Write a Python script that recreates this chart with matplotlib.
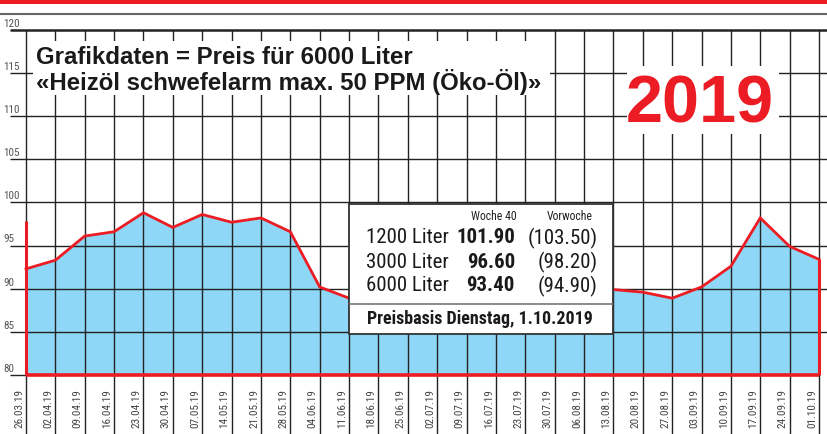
import matplotlib
matplotlib.use("Agg")
import matplotlib.pyplot as plt
from matplotlib import font_manager
from matplotlib.patches import Rectangle

# weekly dates and price for 6000 liter (heating oil, eco)
dates = ["26.03.19", "02.04.19", "09.04.19", "16.04.19", "23.04.19", "30.04.19",
         "07.05.19", "14.05.19", "21.05.19", "28.05.19", "04.06.19", "11.06.19",
         "18.06.19", "25.06.19", "02.07.19", "09.07.19", "16.07.19", "23.07.19",
         "30.07.19", "06.08.19", "13.08.19", "20.08.19", "27.08.19", "03.09.19",
         "10.09.19", "17.09.19", "24.09.19", "01.10.19"]
prices = [92.3, 93.3, 96.1, 96.6, 98.8, 97.1, 98.6, 97.7, 98.2, 96.6, 90.2, 88.9,
          88.5, 90.5, 91.0, 90.8, 91.2, 89.8, 90.4, 88.6, 89.9, 89.6, 88.9, 90.2,
          92.6, 98.2, 94.9, 93.4]
y_ticks = [80, 85, 90, 95, 100, 105, 110, 115, 120]

box_sizes = ["1200 Liter", "3000 Liter", "6000 Liter"]
box_now = ["101.90", "96.60", "93.40"]
box_prev = ["(103.50)", "(98.20)", "(94.90)"]

RED = "#ec1c24"
BLUE = "#8ed7f6"
GRID = "#222222"

# look for a narrow sans font (the original uses a condensed grotesk)
narrow = None
fonts = font_manager.fontManager.ttflist
for want in ["Liberation Sans Narrow", "Roboto Condensed", "Open Sans Condensed",
             "Noto Sans Condensed", "DejaVu Sans Condensed"]:
    if any(f.name == want for f in fonts):
        narrow = want
        break
if narrow is None:
    for f in fonts:
        st = f.stretch
        if (st in ("condensed", "semi-condensed", "extra-condensed")
                or (isinstance(st, int) and st < 500)) and "Serif" not in f.name \
                and "Mono" not in f.name and "CJK" not in f.name:
            narrow = f.name
            break
cond_ok = narrow is not None
if narrow is None:
    narrow = "Liberation Sans"

plt.rcParams["font.family"] = ["Liberation Sans", "DejaVu Sans"]

fig = plt.figure(figsize=(8.28, 4.35), dpi=100)
ax = fig.add_axes([0, 0, 1, 1])
ax.set_axis_off()

n = len(dates)
px_x = (819 - 26) / (n - 1)
px_y = 8.63
x0, x1 = -26 / px_x, (n - 1) + 9 / px_x
y_top, y_bot = 80 + 376 / px_y, 80 - 59 / px_y
ax.set_xlim(x0, x1)
ax.set_ylim(y_bot, y_top)

def py(p):  # pixel row -> data y
    return 80 + (376 - p) / px_y

def pxx(p):  # pixel col -> data x
    return (p - 26) / px_x

def nt(x, y, s, size, **kw):  # narrow text
    kw.setdefault("color", "#1a1a1a")
    kw.setdefault("zorder", 6)
    return ax.text(x, y, s, fontsize=size, family=narrow, fontstretch="condensed", **kw)

xs = list(range(n))
small = 8 if cond_ok else 7.5
big = 15 if cond_ok else 13
mid = 13 if cond_ok else 11.5

# top decoration
ax.add_patch(Rectangle((x0, py(5)), x1 - x0, py(0) - py(5), color=RED, lw=0, zorder=1))
ax.hlines(py(15), x0, x1, color="#666666", lw=1.5)

# area
ax.fill_between(xs, 80, prices, color=BLUE, lw=0, zorder=1)

# grid
for v in y_ticks:
    ax.hlines(v, pxx(10), x1 if v > 80 else pxx(26), color=GRID,
              lw=1.0 if v < 120 else 1.8, zorder=2)
    nt(pxx(3), v + 0.25, str(v), small, color="#555555", ha="left", va="bottom",
       zorder=3)
ax.vlines(xs, y_bot, 120, color=GRID, lw=1.0, zorder=2)

# price line
ax.plot(xs, prices, color=RED, lw=2, zorder=4, solid_joinstyle="miter")
ax.hlines(80, 0, n - 1, color=RED, lw=2.6, zorder=4)
ax.vlines(0, 80, py(222), color=RED, lw=2.2, zorder=4)
ax.vlines(n - 1, 80, prices[-1], color=RED, lw=2.2, zorder=4)

# date labels
for i, d in enumerate(dates):
    nt(i - 7 / px_x, py(409), d, small, rotation=90, color="#444444",
       ha="center", va="center", zorder=3)

# title box
ax.add_patch(Rectangle((pxx(33), py(96)), pxx(550) - pxx(33), py(42) - py(96),
                       color="white", lw=0, zorder=5))
ax.text(pxx(36), py(57), "Grafikdaten = Preis für 6000 Liter", fontsize=17.3,
        fontweight="bold", color="#1a1a1a", ha="left", va="center", zorder=6)
ax.text(pxx(36), py(82), "«Heizöl schwefelarm max. 50 PPM (Öko-Öl)»", fontsize=17.3,
        fontweight="bold", color="#1a1a1a", ha="left", va="center", zorder=6)

# year box
ax.add_patch(Rectangle((pxx(627), py(135)), pxx(779) - pxx(627), py(67) - py(135),
                       color="white", lw=0, zorder=5))
ax.text(pxx(700), py(106), "2019", fontsize=48, fontweight="bold", color=RED,
        ha="center", va="center", zorder=6)

# info box
ax.add_patch(Rectangle((pxx(349), py(335)), pxx(613) - pxx(349), py(205) - py(335),
                       facecolor="white", edgecolor="#333333", lw=1.3, zorder=5))
ax.hlines(py(305), pxx(349), pxx(613), color="#777777", lw=1.2, zorder=6)
nt(pxx(517), py(216), "Woche 40", small + 0.5, color="#222222", ha="right", va="center")
nt(pxx(593), py(216), "Vorwoche", small + 0.5, color="#222222", ha="right", va="center")
for k, (s, a, b) in enumerate(zip(box_sizes, box_now, box_prev)):
    yy = py(238 + k * 24)
    nt(pxx(366), yy, s, big, ha="left", va="center")
    nt(pxx(515), yy, a, big, fontweight="bold", ha="right", va="center")
    nt(pxx(598), yy, b, big, ha="right", va="center")
nt(pxx(367), py(319), "Preisbasis Dienstag, 1.10.2019", mid, fontweight="bold",
   ha="left", va="center")

fig.savefig("out.png", dpi=100)
